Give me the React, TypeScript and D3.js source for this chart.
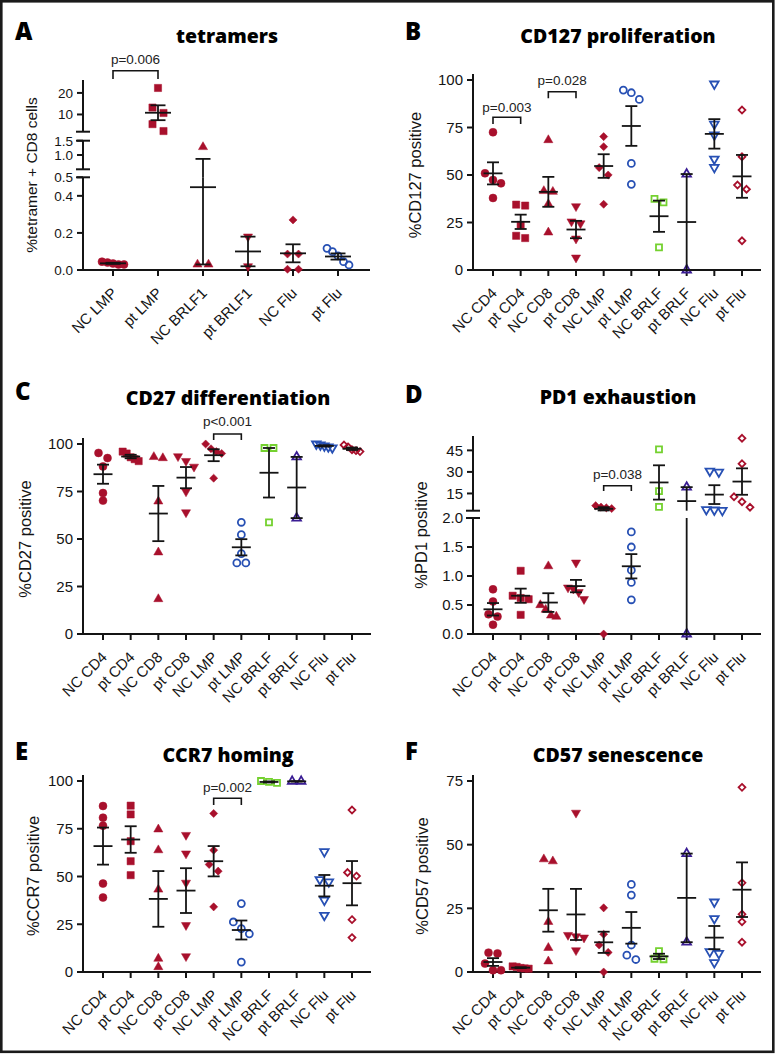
import React from "react";
import * as d3 from "d3";

// ---------- categories ----------
const categoriesA = ["NC LMP", "pt LMP", "NC BRLF1", "pt BRLF1", "NC Flu", "pt Flu"];
const categories = ["NC CD4", "pt CD4", "NC CD8", "pt CD8", "NC LMP", "pt LMP", "NC BRLF", "pt BRLF", "NC Flu", "pt Flu"];

// ---------- values ----------
const tetramerValues = [
  [0.045, 0.035, 0.03, 0.03, 0.04],
  [22.3, 13.2, 10.7, 5.5, 2.3],
  [1.28, 0.03, 0.03],
  [0.18, 0.02],
  [0.27, 0.086, 0.086, 0.004, 0.004],
  [0.117, 0.099, 0.076, 0.045, 0.027],
];
const cd127Values = [
  [72.5, 50.9, 47.4, 45.6, 37.9],
  [33.9, 34.4, 23.7, 16.8, 18.0],
  [68.4, 41.2, 41.6, 34.7, 19.8],
  [33.5, 25.5, 24.5, 16.5, 6.5],
  [64.9, 70.2, 53.9, 50.0, 34.6],
  [94.7, 93.3, 89.8, 56.1, 45.1],
  [37.4, 35.6, 11.9],
  [50.5, 0],
  [97.9, 76.8, 71.1, 54.0, 58.4],
  [84.2, 59.6, 44.7, 42.5, 15.4],
];
const cd27Values = [
  [95.3, 92.6, 88.2, 74.2, 70.2],
  [96, 95, 93, 92, 91],
  [93.2, 92.6, 69.8, 43.0, 18.4],
  [93.5, 91, 88, 75, 64],
  [100, 97.5, 96, 95, 82],
  [58.8, 52.3, 42.3, 37.4, 37.4],
  [97.9, 97.9, 58.8],
  [93.2, 61],
  [100, 99.5, 99, 98.5, 98],
  [99.5, 98.5, 97, 96.5, 96],
];
const pd1Values = [
  [0.77, 0.56, 0.34, 0.30, 0.16],
  [1.09, 0.66, 0.62, 0.60, 0.33],
  [1.17, 0.5, 0.42, 0.32, 0.3],
  [1.23, 0.8, 0.78, 0.72, 0.6],
  [6.5, 5.5, 5, 4.5, 0],
  [1.76, 1.5, 1.1, 0.89, 0.59],
  [45.7, 16.6, 5.7],
  [19.4, 0],
  [30.6, 29.9, 3.5, 3.2, 3.8],
  [53.4, 35.7, 12.7, 9.2, 5.4],
];
const ccr7Values = [
  [86.9, 80.8, 76.6, 46.3, 39.0],
  [87.1, 82.5, 68.5, 58.0, 50.7],
  [74.7, 63.8, 43.2, 7.0, 2.6],
  [71.7, 62.0, 46.7, 24.5, 8.2],
  [83.0, 63.8, 56.3, 52.8, 34.1],
  [35.8, 26.2, 22.7, 20.0, 5.2],
  [100, 99.5, 99],
  [99.8, 99.8],
  [63.0, 47.2, 48.4, 37.6, 29.7],
  [84.8, 50.2, 52.1, 27.4, 18.0],
];
const cd57Values = [
  [7.6, 7.3, 3.3, 0.7, 0.7],
  [2.2, 2.0, 1.6, 1.4, 1.3],
  [44.3, 43.5, 19.7, 9.5, 4.2],
  [62.5, 14.5, 14.0, 13.5, 8.5],
  [25.2, 14.8, 10.6, 7.7, 0],
  [34.4, 30.2, 10.6, 6.6, 4.9],
  [8.2, 5.2, 5.0],
  [46.5, 11.7],
  [27.5, 21.0, 8.0, 7.3, 3.7],
  [72.5, 35.0, 22.7, 19.7, 11.7],
];

// ---------- tick values ----------
const ticksALow = [0, 0.2, 0.4];
const ticksAMid = [0.5, 1.0, 1.5];
const ticksAHigh = [10, 20];
const ticksPercent = [0, 25, 50, 75, 100];
const ticksCD57 = [0, 25, 50, 75];
const ticksDLow = [0, 0.5, 1.0, 1.5, 2.0];
const ticksDHigh = [15, 30, 45];

// ---------- styles ----------
const RED = "#a8102c";
const BLUE = "#2750b4";
const GREEN = "#74d12f";
const PURPLE = "#3a1d94";
const INK = "#141414";

type Shape = "circle" | "square" | "triangle" | "triangleDown" | "diamond";
type Mk = { shape: Shape; filled: boolean; color: string };

const stylesA: Mk[] = [
  { shape: "circle", filled: true, color: RED },
  { shape: "square", filled: true, color: RED },
  { shape: "triangle", filled: true, color: RED },
  { shape: "triangleDown", filled: true, color: RED },
  { shape: "diamond", filled: true, color: RED },
  { shape: "circle", filled: false, color: BLUE },
];
const stylesMain: Mk[] = [
  { shape: "circle", filled: true, color: RED },
  { shape: "square", filled: true, color: RED },
  { shape: "triangle", filled: true, color: RED },
  { shape: "triangleDown", filled: true, color: RED },
  { shape: "diamond", filled: true, color: RED },
  { shape: "circle", filled: false, color: BLUE },
  { shape: "square", filled: false, color: GREEN },
  { shape: "triangle", filled: false, color: PURPLE },
  { shape: "triangleDown", filled: false, color: BLUE },
  { shape: "diamond", filled: false, color: RED },
];

function symbolPath(shape: Shape, filled: boolean): string {
  const gen = d3.symbol();
  switch (shape) {
    case "circle":
      return gen.type(d3.symbolCircle).size(filled ? 50 : 38)()!;
    case "square":
      return gen.type(d3.symbolSquare).size(filled ? 52 : 36)()!;
    case "triangle":
    case "triangleDown":
      return gen.type(d3.symbolTriangle).size(filled ? 36 : 32)()!;
    case "diamond":
      return gen.type(d3.symbolDiamond2).size(filled ? 42 : 30)()!;
  }
}

type Seg = { d: [number, number]; r: [number, number]; ticks: number[]; fmt: string };
type Bracket = { a: number; b: number; top: number; leg: number; ty: number; label: string };
type PanelCfg = {
  letter: string; title: string; yLabel: string;
  cats: string[]; values: number[][]; styles: Mk[];
  axisX: number; bottom: number; xFirst: number; xLast: number; xEnd: number;
  axisTop: number; segs: Seg[]; tickSize: number;
  titleX: number; titleY: number; letterX: number; letterY: number;
  yLabelX: number; yLabelY: number; yLabelSize: number;
  meanW: number; capW: number; step: number; maxW: number;
  brackets: Bracket[];
};

function makeY(segs: Seg[]) {
  const sc = segs.map((s) => d3.scaleLinear().domain(s.d).range(s.r));
  return (v: number) => {
    for (let i = 0; i < segs.length; i++) {
      if (v >= segs[i].d[0] && v <= segs[i].d[1]) return sc[i](v);
    }
    if (v < segs[0].d[0]) return sc[0](v);
    for (let i = 0; i < segs.length - 1; i++) {
      if (v > segs[i].d[1] && v < segs[i + 1].d[0]) return sc[i + 1](segs[i + 1].d[0]);
    }
    return sc[segs.length - 1](v);
  };
}

// spreads points of one column sideways when their markers would collide
function spread(ys: number[], step: number, maxW: number): number[] {
  const idx = ys.map((_, i) => i).sort((a, b) => ys[a] - ys[b]);
  const off = ys.map(() => 0);
  let row: number[] = [];
  const flush = () => {
    const k = row.length;
    const s = k > 1 ? Math.min(step, maxW / (k - 1)) : 0;
    row.forEach((id, j) => (off[id] = (j - (k - 1) / 2) * s));
    row = [];
  };
  for (const id of idx) {
    if (row.length && ys[id] - ys[row[row.length - 1]] >= 7.5) flush();
    row.push(id);
  }
  flush();
  return off;
}

const TICK_FONT = "'Liberation Sans', Arial, Helvetica, sans-serif";
const TITLE_FONT = "'Open Sans', Arial, sans-serif";

function Panel({ p }: { p: PanelCfg }) {
  const y = makeY(p.segs);
  const x = d3.scalePoint<string>().domain(p.cats).range([p.xFirst, p.xLast]);
  const broken = p.segs.length > 1;
  const elements: React.ReactNode[] = [];

  // axes
  if (broken) {
    p.segs.forEach((s, i) => {
      elements.push(
        <line key={`ax${i}`} x1={p.axisX} x2={p.axisX} y1={s.r[0] + (i === 0 ? 1 : 0)} y2={s.r[1]} stroke={INK} strokeWidth={2} />
      );
      if (i > 0)
        elements.push(<line key={`cb${i}`} x1={p.axisX - 7} x2={p.axisX + 7} y1={s.r[0]} y2={s.r[0]} stroke={INK} strokeWidth={2} />);
      if (i < p.segs.length - 1)
        elements.push(<line key={`ct${i}`} x1={p.axisX - 7} x2={p.axisX + 7} y1={s.r[1]} y2={s.r[1]} stroke={INK} strokeWidth={2} />);
    });
  } else {
    elements.push(<line key="ax" x1={p.axisX} x2={p.axisX} y1={p.bottom + 1} y2={p.axisTop} stroke={INK} strokeWidth={2} />);
  }
  p.segs.forEach((s, i) =>
    s.ticks.forEach((t) => {
      const ty = y(t);
      elements.push(<line key={`yt${i}-${t}`} x1={p.axisX - 6} x2={p.axisX} y1={ty} y2={ty} stroke={INK} strokeWidth={2} />);
      elements.push(
        <text key={`yl${i}-${t}`} x={p.axisX - 10} y={ty} dy="0.36em" textAnchor="end" fontSize={p.tickSize} fontFamily={TICK_FONT} fill={INK}>
          {d3.format(s.fmt)(t)}
        </text>
      );
    })
  );
  elements.push(<line key="xax" x1={p.axisX - 1} x2={p.xEnd} y1={p.bottom} y2={p.bottom} stroke={INK} strokeWidth={2} />);
  p.cats.forEach((c) => {
    const cx = x(c)!;
    elements.push(<line key={`xt${c}`} x1={cx} x2={cx} y1={p.bottom} y2={p.bottom + 6} stroke={INK} strokeWidth={2} />);
    elements.push(
      <text key={`xl${c}`} transform={`translate(${cx + 5},${p.bottom + 24}) rotate(-45)`} textAnchor="end" fontSize={15} fontFamily={TICK_FONT} fill={INK}>
        {c}
      </text>
    );
  });

  // points
  p.values.forEach((vals, gi) => {
    const st = p.styles[gi];
    const cx = x(p.cats[gi])!;
    const ys = vals.map((v) => y(v));
    const offs = spread(ys, p.step, p.maxW);
    const path = symbolPath(st.shape, st.filled);
    vals.forEach((v, k) => {
      const rot = st.shape === "triangleDown" ? " rotate(180)" : "";
      elements.push(
        <path
          key={`pt${gi}-${k}`}
          d={path}
          transform={`translate(${cx + offs[k]},${ys[k]})${rot}`}
          fill={st.filled ? st.color : "none"}
          stroke={st.color}
          strokeWidth={st.filled ? 0.5 : 1.8}
        />
      );
    });
  });

  // mean ± SEM
  p.values.forEach((vals, gi) => {
    const cx = x(p.cats[gi])!;
    const m = d3.mean(vals)!;
    const sem = (d3.deviation(vals) ?? 0) / Math.sqrt(vals.length);
    const lo = m - sem;
    const hi = m + sem;
    p.segs.forEach((s, si) => {
      const a = Math.max(lo, s.d[0]);
      const b = Math.min(hi, s.d[1]);
      if (b > a) elements.push(<line key={`eb${gi}-${si}`} x1={cx} x2={cx} y1={y(a)} y2={y(b)} stroke={INK} strokeWidth={1.8} />);
    });
    [lo, hi].forEach((v, k) =>
      elements.push(
        <line key={`cap${gi}-${k}`} x1={cx - p.capW / 2} x2={cx + p.capW / 2} y1={y(v)} y2={y(v)} stroke={INK} strokeWidth={1.8} />
      )
    );
    elements.push(<line key={`mn${gi}`} x1={cx - p.meanW / 2} x2={cx + p.meanW / 2} y1={y(m)} y2={y(m)} stroke={INK} strokeWidth={1.8} />);
  });

  // significance brackets
  p.brackets.forEach((b, i) => {
    const xa = x(p.cats[b.a])!;
    const xb = x(p.cats[b.b])!;
    elements.push(
      <path key={`br${i}`} d={`M${xa},${b.leg}V${b.top}H${xb}V${b.leg}`} fill="none" stroke={INK} strokeWidth={1.6} />
    );
    elements.push(
      <text key={`brt${i}`} x={(xa + xb) / 2} y={b.ty} textAnchor="middle" fontSize={13.5} fontFamily={TICK_FONT} fill="#222">
        {b.label}
      </text>
    );
  });

  return (
    <g>
      <text x={p.letterX} y={p.letterY} fontSize={24} fontWeight={800} fontFamily={TITLE_FONT} fill="#000">
        {p.letter}
      </text>
      <text x={p.titleX} y={p.titleY} textAnchor="middle" fontSize={19.5} fontWeight={800} fontFamily={TITLE_FONT} fill="#000">
        {p.title}
      </text>
      <text
        transform={`translate(${p.yLabelX},${p.yLabelY}) rotate(-90)`}
        textAnchor="middle"
        fontSize={p.yLabelSize}
        fontFamily={TICK_FONT}
        fill={INK}
      >
        {p.yLabel}
      </text>
      {elements}
    </g>
  );
}

const panels: PanelCfg[] = [
  {
    letter: "A", title: "tetramers", yLabel: "%tetramer + CD8 cells",
    cats: categoriesA, values: tetramerValues, styles: stylesA,
    axisX: 83, bottom: 270, xFirst: 113, xLast: 338, xEnd: 370, axisTop: 80, tickSize: 13.5,
    segs: [
      { d: [0, 0.5], r: [270, 177.3], ticks: ticksALow, fmt: ".1f" },
      { d: [0.5, 1.5], r: [169.3, 140.7], ticks: ticksAMid, fmt: ".1f" },
      { d: [2, 26], r: [131.7, 80], ticks: ticksAHigh, fmt: "d" },
    ],
    titleX: 227, titleY: 42.7, letterX: 15, letterY: 40, yLabelX: 37, yLabelY: 175, yLabelSize: 15.5,
    meanW: 26, capW: 15, step: 11, maxW: 22,
    brackets: [{ a: 0, b: 1, top: 70.7, leg: 79, ty: 64.3, label: "p=0.006" }],
  },
  {
    letter: "B", title: "CD127 proliferation", yLabel: "%CD127 positive",
    cats: categories, values: cd127Values, styles: stylesMain,
    axisX: 473, bottom: 270, xFirst: 493, xLast: 742, xEnd: 761, axisTop: 74, tickSize: 15,
    segs: [{ d: [0, 100], r: [270, 80], ticks: ticksPercent, fmt: "d" }],
    titleX: 618, titleY: 42.7, letterX: 405, letterY: 40, yLabelX: 421, yLabelY: 175, yLabelSize: 16.5,
    meanW: 19, capW: 12, step: 9, maxW: 16,
    brackets: [
      { a: 0, b: 1, top: 117.3, leg: 124, ty: 111.7, label: "p=0.003" },
      { a: 2, b: 3, top: 91.7, leg: 98.3, ty: 85, label: "p=0.028" },
    ],
  },
  {
    letter: "C", title: "CD27 differentiation", yLabel: "%CD27 positive",
    cats: categories, values: cd27Values, styles: stylesMain,
    axisX: 83, bottom: 634, xFirst: 103, xLast: 352, xEnd: 371, axisTop: 438, tickSize: 15,
    segs: [{ d: [0, 100], r: [634, 444], ticks: ticksPercent, fmt: "d" }],
    titleX: 228, titleY: 405, letterX: 15, letterY: 400, yLabelX: 31, yLabelY: 539, yLabelSize: 16.5,
    meanW: 19, capW: 12, step: 9, maxW: 16,
    brackets: [{ a: 4, b: 5, top: 434, leg: 440, ty: 426, label: "p<0.001" }],
  },
  {
    letter: "D", title: "PD1 exhaustion", yLabel: "%PD1 positive",
    cats: categories, values: pd1Values, styles: stylesMain,
    axisX: 473, bottom: 634, xFirst: 493, xLast: 742, xEnd: 761, axisTop: 436, tickSize: 15,
    segs: [
      { d: [0, 2], r: [634, 518], ticks: ticksDLow, fmt: ".1f" },
      { d: [3, 55], r: [510.7, 436], ticks: ticksDHigh, fmt: "d" },
    ],
    titleX: 618, titleY: 404, letterX: 405, letterY: 403, yLabelX: 427, yLabelY: 535, yLabelSize: 16.5,
    meanW: 19, capW: 12, step: 9, maxW: 16,
    brackets: [{ a: 4, b: 5, top: 485.7, leg: 491, ty: 479.3, label: "p=0.038" }],
  },
  {
    letter: "E", title: "CCR7 homing", yLabel: "%CCR7 positive",
    cats: categories, values: ccr7Values, styles: stylesMain,
    axisX: 83, bottom: 972, xFirst: 103, xLast: 352, xEnd: 371, axisTop: 775, tickSize: 15,
    segs: [{ d: [0, 100], r: [972, 781], ticks: ticksPercent, fmt: "d" }],
    titleX: 228, titleY: 762, letterX: 15, letterY: 760, yLabelX: 39, yLabelY: 876, yLabelSize: 16.5,
    meanW: 19, capW: 12, step: 9, maxW: 16,
    brackets: [{ a: 4, b: 5, top: 798.3, leg: 805, ty: 791.7, label: "p=0.002" }],
  },
  {
    letter: "F", title: "CD57 senescence", yLabel: "%CD57 positive",
    cats: categories, values: cd57Values, styles: stylesMain,
    axisX: 473, bottom: 972, xFirst: 493, xLast: 742, xEnd: 761, axisTop: 775, tickSize: 15,
    segs: [{ d: [0, 75], r: [972, 781], ticks: ticksCD57, fmt: "d" }],
    titleX: 618, titleY: 762, letterX: 405, letterY: 760, yLabelX: 428, yLabelY: 876, yLabelSize: 16.5,
    meanW: 19, capW: 12, step: 9, maxW: 16,
    brackets: [],
  },
];

export default function App() {
  return (
    <svg
      width={780}
      height={1055}
      viewBox="0 0 780 1055"
      style={{ position: "absolute", left: 0, top: 0, background: "#fff" }}
    >
      <rect x={0} y={0} width={780} height={1055} fill="#fff" />
      <rect x={1.3} y={1.3} width={772} height={1050.5} fill="none" stroke="#1a1a1a" strokeWidth={2.6} />
      {panels.map((p) => (
        <Panel key={p.letter} p={p} />
      ))}
    </svg>
  );
}
